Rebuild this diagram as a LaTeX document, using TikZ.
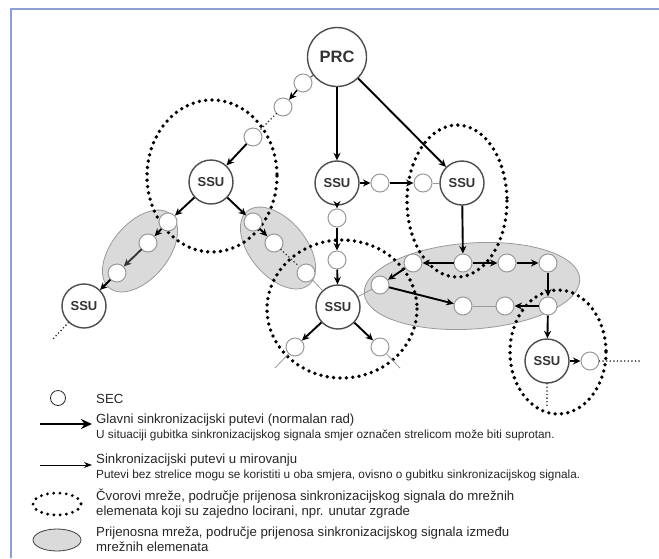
\documentclass[tikz,border=0pt]{standalone}
\usepackage{fontspec}
\setmainfont{Liberation Sans}
\setsansfont{Liberation Sans}
\usetikzlibrary{arrows.meta}
\definecolor{framecol}{RGB}{140,160,215}
\definecolor{netgray}{RGB}{218,218,218}
\def\thickw{1.9pt}
\def\thinw{0.8pt}

\begin{document}
\begin{tikzpicture}[x=1pt,y=-1pt,font=\sffamily,>={Stealth[length=7.5pt,width=7pt]}]
    \tikzstyle{ssu}=[circle,draw=black!70,line width=1.4pt,fill=white,minimum size=44pt,inner sep=0pt,text=black!80,font=\fontsize{13}{13}\selectfont\bfseries]
    \tikzstyle{prc}=[ssu,minimum size=59pt,font=\fontsize{16.5}{16.5}\selectfont\bfseries]
    \tikzstyle{sec}=[circle,draw=black!40,line width=1pt,fill=white,minimum size=18pt,inner sep=0pt]
    \tikzstyle{mainpath}=[->,line width=\thickw,draw=black]
    \tikzstyle{idlepath}=[line width=\thinw,draw=black!40]
    \tikzstyle{dotpath}=[line width=1.8pt,dash pattern=on 0pt off 3.6pt,line cap=round,draw=black!80]
    \tikzstyle{area}=[draw=black!40,line width=0.8pt,fill=netgray]
    \tikzstyle{site}=[line width=3.8pt,dash pattern=on 0pt off 6.4pt,line cap=round]
    \tikzstyle{txt}=[anchor=base west,inner sep=0pt,text=black!85,font=\fontsize{13.2}{15}\selectfont]
    \tikzstyle{note}=[txt,font=\fontsize{11.8}{13}\selectfont]

    \useasboundingbox (0,0) rectangle (659,558);
    \draw[framecol,line width=2pt] (11,558) -- (11,9) -- (659,9);

    \draw[area,rotate around={50:(140,251)}] (140,251) ellipse (48 and 28);
    \draw[area,rotate around={-50:(278,248)}] (278,248) ellipse (48 and 28);
    \draw[area,rotate around={4:(472,286)}] (472,286) ellipse (108 and 43);

    \draw[site] (212,176) ellipse (65 and 76);
    \draw[site] (457,201) ellipse (50 and 76);
    \draw[site] (342,309) ellipse (75 and 69);
    \draw[site] (558,352) ellipse (48 and 62);

    \node[prc] (prc) at (337,57) {PRC};
    \node[ssu] (sA) at (211,182) {SSU};
    \node[ssu] (sB) at (337,183) {SSU};
    \node[ssu] (sC) at (462,183) {SSU};
    \node[ssu] (sD) at (84,306) {SSU};
    \node[ssu] (sE) at (338,307) {SSU};
    \node[ssu] (sF) at (547,361) {SSU};

    \node[sec] (a1) at (303,83) {};
    \node[sec] (a2) at (283,107) {};
    \node[sec] (a3) at (253,137) {};
    \node[sec] (b1) at (380,183) {};
    \node[sec] (b2) at (423,183) {};
    \node[sec] (c1) at (337,218) {};
    \node[sec] (c2) at (337,260) {};
    \node[sec] (d1) at (168,222) {};
    \node[sec] (d2) at (148,243) {};
    \node[sec] (d3) at (117,273) {};
    \node[sec] (e1) at (253,222) {};
    \node[sec] (e2) at (274,243) {};
    \node[sec] (e3) at (306,273) {};
    \node[sec] (f1) at (295,347) {};
    \node[sec] (f2) at (380,347) {};
    \node[sec] (g0) at (380,285) {};
    \node[sec] (g1) at (413,263) {};
    \node[sec] (g2) at (463,263) {};
    \node[sec] (g3) at (507,263) {};
    \node[sec] (g4) at (548,263) {};
    \node[sec] (h1) at (463,306) {};
    \node[sec] (h2) at (505,306) {};
    \node[sec] (h3) at (548,306) {};
    \node[sec] (k1) at (590,361) {};

    \coordinate (dEnd) at (52,340);
    \coordinate (f1End) at (275,368);
    \coordinate (f2End) at (400,368);
    \coordinate (kEnd) at (640,361);
    \coordinate (sEnd) at (547,407);

    \draw[line width=1pt,black!70] (prc) -- (a1);
    \draw[mainpath,line width=1.4pt] (a1) -- (a2);
    \draw[dotpath] (a2) -- (a3);
    \draw[mainpath] (a3) -- (sA);
    \draw[mainpath] (prc) -- (sB);
    \draw[mainpath] (prc) -- (sC);

    \draw[mainpath] (sB) -- (b1);
    \draw[mainpath] (b1) -- (b2);
    \draw[idlepath] (b2) -- (sC);
    \draw[mainpath] (sB) -- (c1);
    \draw[mainpath] (c1) -- (c2);
    \draw[mainpath] (c2) -- (sE);

    \draw[mainpath] (sA) -- (d1);
    \draw[mainpath] (d1) -- (d2);
    \draw[dotpath,->,solid] (d2) -- (d3);
    \draw[dotpath] (d2) -- (d3);
    \draw[mainpath] (d3) -- (sD);
    \draw[dotpath] (sD) -- (dEnd);

    \draw[mainpath] (sA) -- (e1);
    \draw[mainpath] (e1) -- (e2);
    \draw[dotpath] (e2) -- (e3);
    \draw[idlepath] (e3) -- (sE);

    \draw[mainpath] (sE) -- (f1);
    \draw[mainpath] (sE) -- (f2);
    \draw[idlepath] (f1) -- (f1End);
    \draw[idlepath] (f2) -- (f2End);
    \draw[idlepath] (sE) -- (g0);

    \draw[mainpath] (sC) -- (g2);
    \draw[mainpath] (g2) -- (g1);
    \draw[mainpath] (g2) -- (g3);
    \draw[mainpath] (g3) -- (g4);
    \draw[mainpath] (g1) -- (g0);
    \draw[mainpath] (g0) -- (h1);
    \draw[idlepath] (h1) -- (h2);
    \draw[mainpath] (h3) -- (h2);
    \draw[mainpath] (g4) -- (h3);
    \draw[mainpath] (h3) -- (sF);
    \draw[mainpath] (sF) -- (k1);
    \draw[dotpath] (k1) -- (kEnd);
    \draw[dotpath] (sF) -- (sEnd);

    \node[sec,draw=black!85,minimum size=15pt,line width=0.8pt] (lsec) at (58,398) {};
    \node[txt] (tsec) at (96,403) {SEC};

    \coordinate (lm1) at (40,424);
    \coordinate (lm2) at (92,424);
    \draw[->,line width=2.8pt,>={Stealth[length=11pt,width=10pt]}] (lm1) -- (lm2);
    \node[txt] (tmain) at (96,423) {Glavni sinkronizacijski putevi (normalan rad)};
    \node[note] (nmain) at (96,438) {U situaciji gubitka sinkronizacijskog signala smjer označen strelicom može biti suprotan.};

    \coordinate (li1) at (40,465);
    \coordinate (li2) at (92,465);
    \draw[->,line width=1pt,>={Stealth[length=8pt,width=6pt]}] (li1) -- (li2);
    \node[txt] (tidle) at (96,463) {Sinkronizacijski putevi u mirovanju};
    \node[note] (nidle) at (96,478) {Putevi bez strelice mogu se koristiti u oba smjera, ovisno o gubitku sinkronizacijskog signala.};

    \draw[line width=3.2pt,dash pattern=on 0pt off 6.3pt,line cap=round] (57,504) ellipse (24 and 11);
    \node[txt] (tsite) at (96,500) {Čvorovi mreže, područje prijenosa sinkronizacijskog signala do mrežnih};
    \node[txt] (tsite2) at (96,515) {elemenata koji su zajedno locirani, npr. unutar zgrade};

    \draw[fill=netgray,draw=black!75,line width=0.8pt] (57,540) ellipse (24 and 11);
    \node[txt] (tarea) at (96,536) {Prijenosna mreža, područje prijenosa sinkronizacijskog signala između};
    \node[txt] (tarea2) at (96,551) {mrežnih elemenata};
\end{tikzpicture}
\end{document}
